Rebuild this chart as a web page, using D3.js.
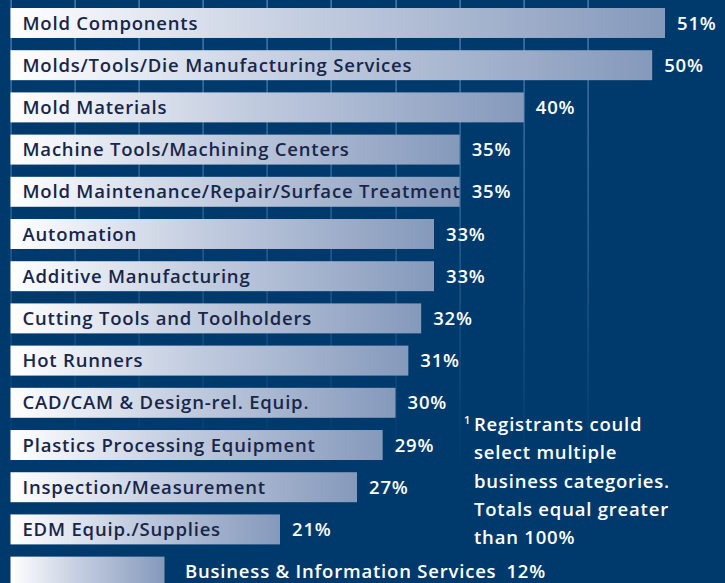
<!DOCTYPE html>
<html><head><meta charset="utf-8">
<script src="https://cdn.jsdelivr.net/npm/d3@7"></script>
<style>
html,body{margin:0;padding:0;background:#003a6c;overflow:hidden;}
svg{display:block;}
text{font-family:"Open Sans",sans-serif;font-weight:600;letter-spacing:0.8px;}
</style></head><body>
<svg id="chart" width="725" height="583"></svg>
<script>
const categories = [
  "Mold Components",
  "Molds/Tools/Die Manufacturing Services",
  "Mold Materials",
  "Machine Tools/Machining Centers",
  "Mold Maintenance/Repair/Surface Treatment",
  "Automation",
  "Additive Manufacturing",
  "Cutting Tools and Toolholders",
  "Hot Runners",
  "CAD/CAM & Design-rel. Equip.",
  "Plastics Processing Equipment",
  "Inspection/Measurement",
  "EDM Equip./Supplies",
  "Business & Information Services"
];
const values = [51, 50, 40, 35, 35, 33, 33, 32, 31, 30, 29, 27, 21, 12];
const gridTicks = [0, 5, 10, 15, 20, 25, 30, 35, 40, 45];
const footnoteLines = ["Registrants could", "select multiple", "business categories.", "Totals equal greater", "than 100%"];

const W = 725, H = 583;
const svg = d3.select("#chart");
const bg = "#003a6c";
svg.append("rect").attr("width", W).attr("height", H).attr("fill", bg);

const defs = svg.append("defs");
const bgGrad = defs.append("linearGradient").attr("id", "barGrad")
  .attr("x1", "0%").attr("x2", "100%").attr("y1", "0%").attr("y2", "0%");
bgGrad.append("stop").attr("offset", "0%").attr("stop-color", "#ffffff");
bgGrad.append("stop").attr("offset", "45%").attr("stop-color", "#c3cde0");
bgGrad.append("stop").attr("offset", "100%").attr("stop-color", "#8599bb");

const gridGrad = defs.append("linearGradient").attr("id", "gridGrad")
  .attr("gradientUnits", "userSpaceOnUse")
  .attr("x1", 0).attr("x2", 0).attr("y1", 0).attr("y2", 470);
gridGrad.append("stop").attr("offset", "0%").attr("stop-color", "#5a8cc0").attr("stop-opacity", 1);
gridGrad.append("stop").attr("offset", "55%").attr("stop-color", "#4d7fb3").attr("stop-opacity", 0.6);
gridGrad.append("stop").attr("offset", "100%").attr("stop-color", "#3f6fa3").attr("stop-opacity", 0);

const x = d3.scaleLinear().domain([0, 51]).range([10.5, 665]);
const y = d3.scaleBand().domain(categories).range([8, 586.6]).paddingInner(0.29).paddingOuter(0).align(0);

// grid
svg.append("g").selectAll("rect").data(gridTicks).join("rect")
  .attr("x", d => Math.round(x(d)) - 0.5).attr("width", 1.2)
  .attr("y", 0).attr("height", 470)
  .attr("fill", "url(#gridGrad)");

const g = svg.append("g");
const rows = g.selectAll("g.row").data(categories).join("g").attr("class", "row");

rows.append("rect")
  .attr("x", x(0))
  .attr("y", d => y(d))
  .attr("width", (d, i) => x(values[i]) - x(0))
  .attr("height", y.bandwidth())
  .attr("fill", "url(#barGrad)");

const fs = 18.5;
const lastIdx = categories.length - 1;
rows.each(function(d, i) {
  const row = d3.select(this);
  const cy = y(d) + y.bandwidth() / 2;
  if (i !== lastIdx) {
    row.append("text").attr("x", 22.5).attr("y", cy).attr("dy", "0.36em")
      .attr("fill", "#18264a").attr("font-size", fs).text(d);
    row.append("text").attr("x", x(values[i]) + 12).attr("y", cy).attr("dy", "0.36em")
      .attr("fill", "#ffffff").attr("font-size", fs).text(values[i] + "%");
  } else {
    const t = row.append("text").attr("x", 185).attr("y", cy).attr("dy", "0.36em")
      .attr("fill", "#ffffff").attr("font-size", fs).text(d);
    const w = t.node().getComputedTextLength();
    row.append("text").attr("x", 185 + w + 10).attr("y", cy).attr("dy", "0.36em")
      .attr("fill", "#ffffff").attr("font-size", fs).text(values[i] + "%");
  }
});

// footnote
const fn = svg.append("g");
fn.append("text").attr("x", 464).attr("y", 424).attr("fill", "#ffffff")
  .attr("font-size", 11).text("1");
fn.selectAll("text.fl").data(footnoteLines).join("text").attr("class", "fl")
  .attr("x", 474).attr("y", (d, i) => 431 + i * 28.3)
  .attr("fill", "#ffffff").attr("font-size", fs).text(d => d);
</script>
</body></html>
